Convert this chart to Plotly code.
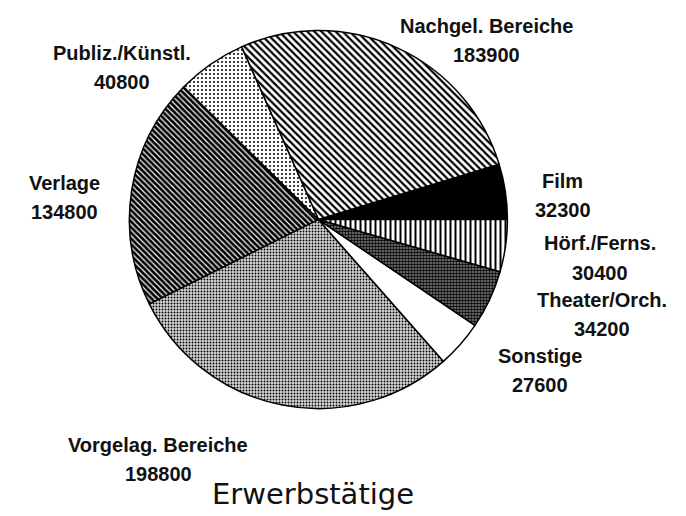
import plotly.graph_objects as go

# Erwerbstätige nach Bereichen (gegen den Uhrzeigersinn ab 3 Uhr)
labels = ["Film", "Nachgel. Bereiche", "Publiz./Künstl.", "Verlage",
          "Vorgelag. Bereiche", "Sonstige", "Theater/Orch.", "Hörf./Ferns."]
values = [32300, 183900, 40800, 134800, 198800, 27600, 34200, 30400]

# Position der Beschriftungen (Papierkoordinaten)
label_x = [0.809, 0.697, 0.166, 0.083, 0.219, 0.776, 0.866, 0.863]
label_y = [0.665, 0.965, 0.913, 0.661, 0.153, 0.326, 0.434, 0.544]

# Film beginnt bei 3 Uhr und läuft gegen den Uhrzeigersinn
rot = 90 - values[0] / sum(values) * 360

bg = ["black", "white", "white", "white", "#d4d4d4", "white", "#8a8a8a", "white"]

fig = go.Figure(go.Pie(
    labels=labels,
    values=values,
    sort=False,
    direction="counterclockwise",
    rotation=rot,
    textinfo="none",
    hoverinfo="label+value",
    domain=dict(x=[0.177, 0.728], y=[0.222, 0.958]),
    marker=dict(
        colors=bg,
        line=dict(color="black", width=1.5),
        pattern=dict(
            shape=["", "\\", ".", "\\", ".", "", ".", "|"],
            size=[6, 5, 4, 4, 3, 6, 3, 5],
            solidity=[0.2, 0.45, 0.2, 0.7, 0.3, 0.2, 0.6, 0.4],
            fgcolor="black",
            bgcolor=bg,
        ),
    ),
))

lab_font = dict(family="Liberation Sans", size=20, color="#111")
for name, val, x, y in zip(labels, values, label_x, label_y):
    fig.add_annotation(x=x, y=y, xref="paper", yref="paper", text=f"<b>{name}</b>",
                       showarrow=False, font=lab_font, xanchor="center", yanchor="middle")
    fig.add_annotation(x=x, y=y - 0.057, xref="paper", yref="paper", text=f"<b>{val}</b>",
                       showarrow=False, font=lab_font, xanchor="center", yanchor="middle")

fig.add_annotation(x=0.445, y=0.058, xref="paper", yref="paper", text="Erwerbstätige",
                   showarrow=False, font=dict(family="DejaVu Sans", size=29, color="#111"),
                   xanchor="center", yanchor="middle")

fig.update_layout(
    width=686,
    height=516,
    margin=dict(l=0, r=0, t=0, b=0),
    showlegend=False,
    paper_bgcolor="white",
    plot_bgcolor="white",
)

fig.write_html("out.html")
